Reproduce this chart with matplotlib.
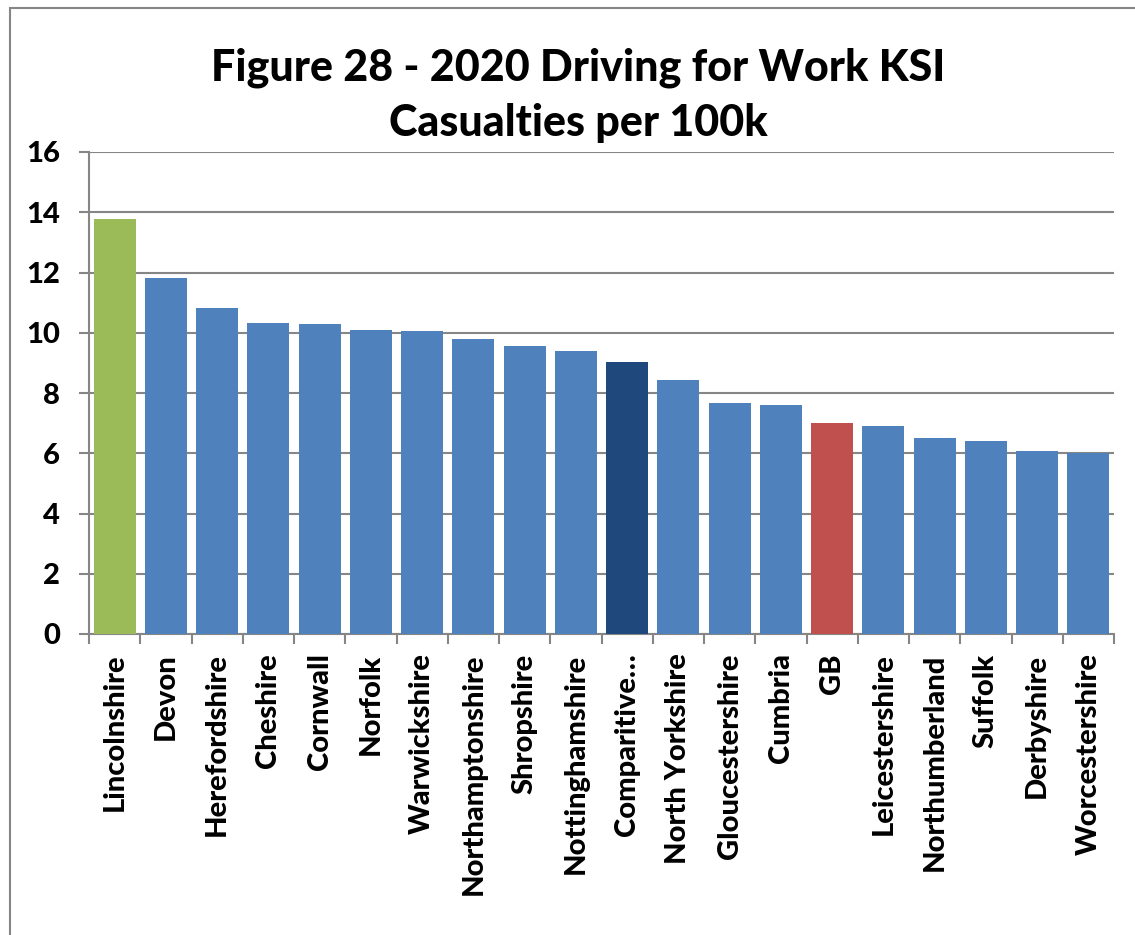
"""Bar chart of 2020 driving-for-work KSI casualties per 100k by county."""
import matplotlib.pyplot as plt
from matplotlib.patches import Rectangle
from matplotlib.ticker import FixedLocator, MultipleLocator

counties = [
    "Lincolnshire", "Devon", "Herefordshire", "Cheshire", "Cornwall",
    "Norfolk", "Warwickshire", "Northamptonshire", "Shropshire",
    "Nottinghamshire", "Comparitive\u2026", "North Yorkshire",
    "Gloucestershire", "Cumbria", "GB", "Leicestershire", "Northumberland",
    "Suffolk", "Derbyshire", "Worcestershire",
]
ksi_per_100k = [
    13.78, 11.82, 10.83, 10.32, 10.30, 10.10, 10.06, 9.79, 9.57, 9.40,
    9.03, 8.43, 7.67, 7.60, 7.01, 6.91, 6.52, 6.42, 6.09, 6.02,
]

BLUE = "#4F81BD"
highlight = {"Lincolnshire": "#9BBB59", "Comparitive\u2026": "#1F497D", "GB": "#C0504D"}
colors = [highlight.get(c, BLUE) for c in counties]

plt.rcParams["font.family"] = ["Lato", "DejaVu Sans"]
WEIGHT = "black"

fig = plt.figure(figsize=(11.35, 9.35), dpi=100)
W, H = 1135, 935
ax = fig.add_axes([89 / W, 1 - 634 / H, (1114 - 89) / W, (634 - 152) / H])

# outer chart border
fig.patches.append(Rectangle((10 / W, -0.01), 1.2, 1 - (-0.01) - 8 / H,
                             transform=fig.transFigure, fill=False,
                             edgecolor="#868686", linewidth=1.5))

x = range(len(counties))
ax.bar(x, ksi_per_100k, width=0.82, color=colors, zorder=3)

ax.set_xlim(-0.5, len(counties) - 0.5)
ax.set_ylim(0, 16)
ax.yaxis.set_major_locator(MultipleLocator(2))
ax.grid(axis="y", color="#868686", linewidth=1.5, zorder=0)

ax.set_xticks(list(x))
ax.set_xticklabels(counties, rotation=90, fontsize=21, fontweight=WEIGHT)
ax.tick_params(axis="x", which="major", length=0, pad=14)
ax.xaxis.set_minor_locator(FixedLocator([i - 0.5 for i in range(len(counties) + 1)]))
ax.tick_params(axis="x", which="minor", length=7, width=1.5, color="#868686")
ax.tick_params(axis="y", labelsize=21, length=7, width=1.5, color="#868686", pad=14)
for lbl in ax.get_yticklabels():
    lbl.set_fontweight(WEIGHT)

for side in ("top", "right"):
    ax.spines[side].set_visible(False)
for side in ("left", "bottom"):
    ax.spines[side].set_color("#868686")
    ax.spines[side].set_linewidth(1.5)

fig.text(578 / W, 1 - 95 / H, "Figure 28 - 2020 Driving for Work KSI\nCasualties per 100k",
         ha="center", va="center", fontsize=31, fontweight=WEIGHT, linespacing=1.45)

fig.savefig("out.png", dpi=100)
